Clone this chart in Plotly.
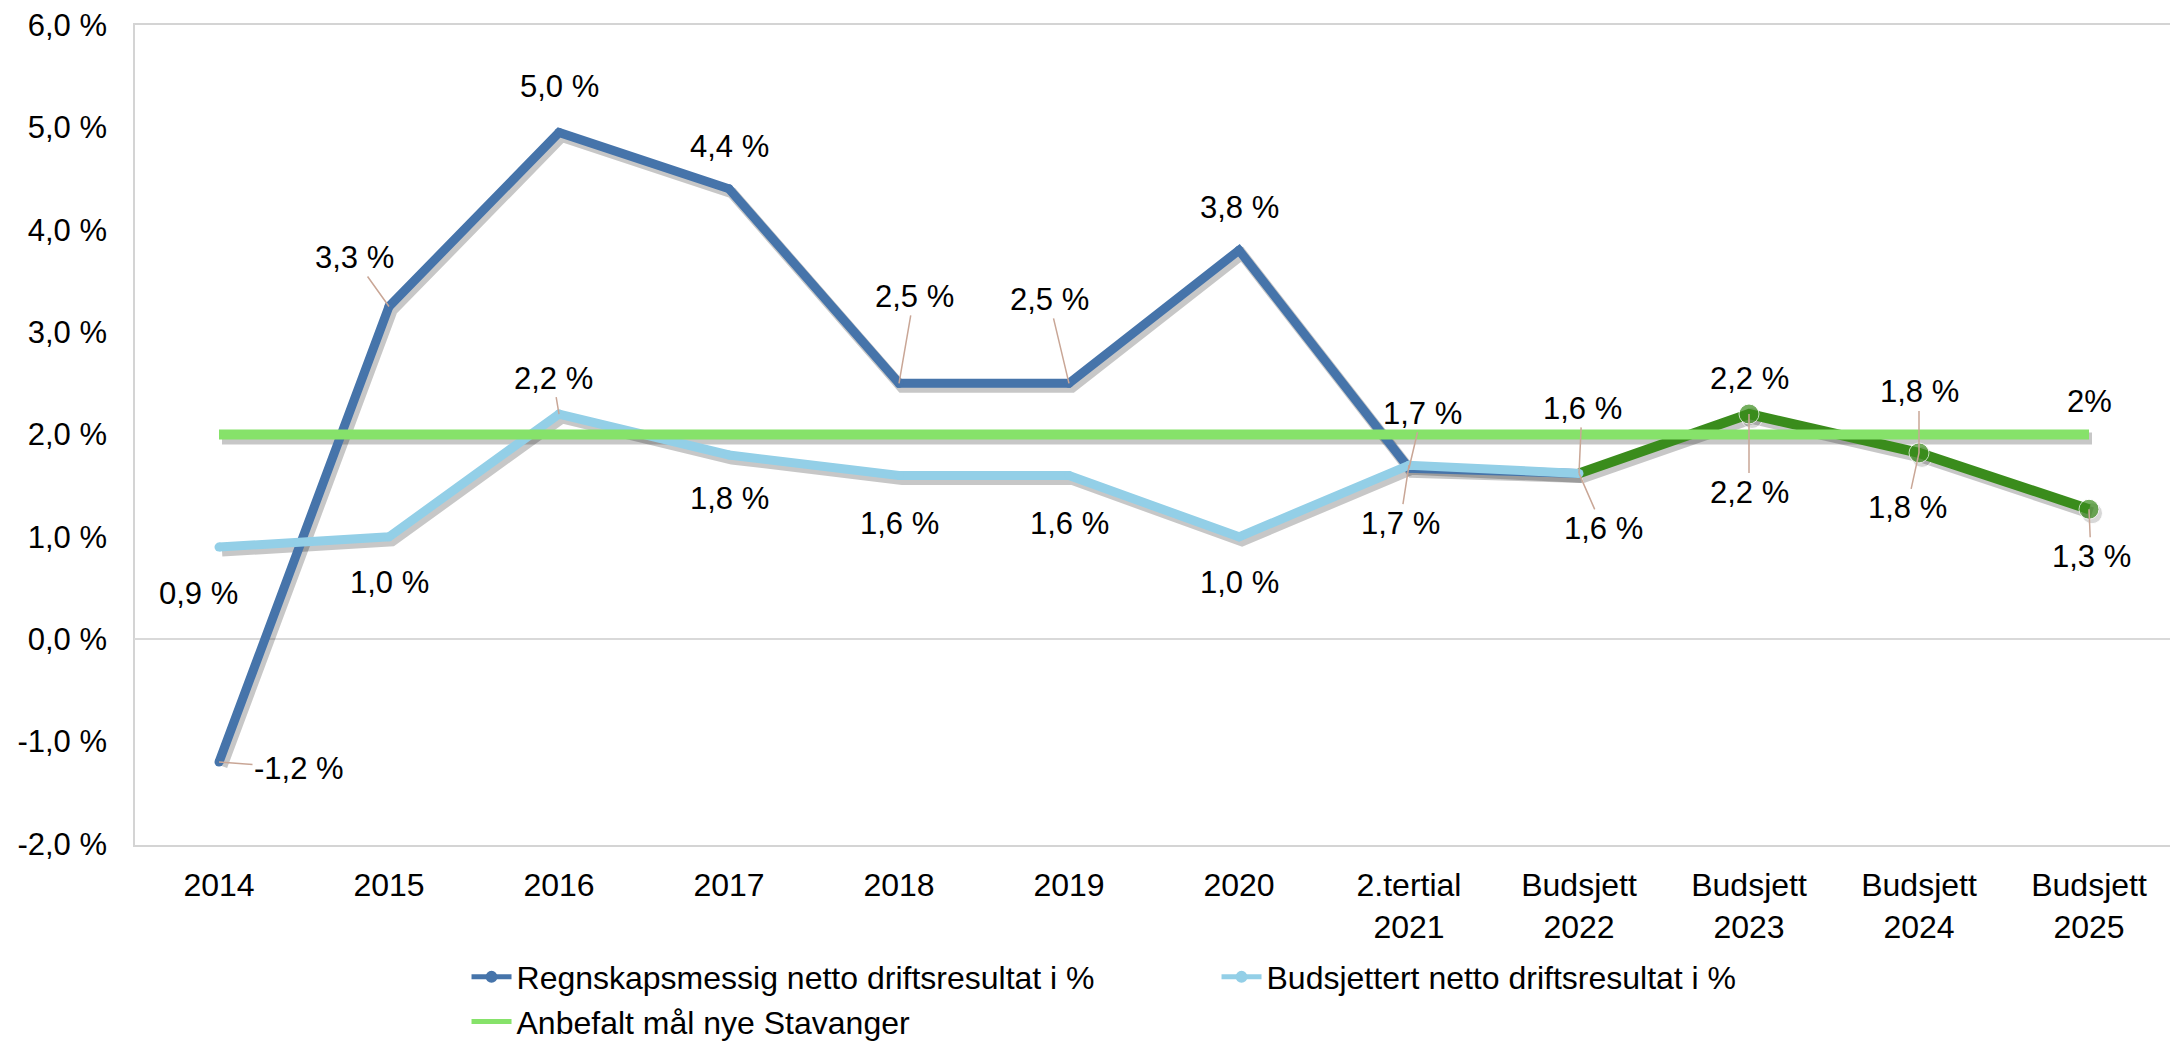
import plotly.graph_objects as go

categories = ["2014", "2015", "2016", "2017", "2018", "2019", "2020",
              "2.tertial<br>2021", "Budsjett<br>2022", "Budsjett<br>2023",
              "Budsjett<br>2024", "Budsjett<br>2025"]

# Regnskapsmessig netto driftsresultat i % (2014 .. Budsjett 2025)
regnskap = [-1.2, 3.25, 4.95, 4.4, 2.5, 2.5, 3.8, 1.67, 1.62, 2.2, 1.82, 1.27]
regnskap_labels = ["-1,2 %", "3,3 %", "5,0 %", "4,4 %", "2,5 %", "2,5 %", "3,8 %",
                   "1,7 %", "1,6 %", "2,2 %", "1,8 %", ""]
# labels shown below the budget points 2023-2025
budget_point_labels = ["", "", "", "", "", "", "", "", "", "2,2 %", "1,8 %", "1,3 %"]

# Budsjettert netto driftsresultat i % (2014 .. Budsjett 2022)
budsjettert = [0.9, 1.0, 2.2, 1.8, 1.6, 1.6, 1.0, 1.7, 1.62]
budsjettert_labels = ["0,9 %", "1,0 %", "2,2 %", "1,8 %", "1,6 %", "1,6 %", "1,0 %",
                      "1,7 %", "1,6 %"]

# Anbefalt mål nye Stavanger
maal = [2.0, 2.0, 2.0, 2.0, 2.0, 2.0, 2.0, 2.0, 2.0, 2.0, 2.0, 2.0]
maal_label = "2%"

y_ticks = [-2, -1, 0, 1, 2, 3, 4, 5, 6]
y_ticktext = ["-2,0 %", "-1,0 %", "0,0 %", "1,0 %", "2,0 %", "3,0 %", "4,0 %", "5,0 %", "6,0 %"]

# ---------------- style ----------------
DARK_BLUE = "#4674aa"
LIGHT_BLUE = "#93cfe7"
DARK_GREEN = "#3a8c1c"
LIGHT_GREEN = "#86e26a"
SHADOW = "rgba(0,0,0,0.22)"
LEADER = "#c9a696"
FONT = "Liberation Sans, Arial, sans-serif"
FS = 31

# page body has an 8px margin -> compensate
W, H = 2170, 1033
ML, MR, MT, MB = 126, 4, 16, 195
PW, PH = W - ML - MR, H - MT - MB
XR = [-0.5, 11.5]
YR = [-2.02, 6.01]
px_x = PW / (XR[1] - XR[0])
px_y = PH / (YR[1] - YR[0])
SDX, SDY = 3, 4  # shadow offset in px
XR_S = [XR[0] - SDX / px_x, XR[1] - SDX / px_x]
YR_S = [YR[0] + SDY / px_y, YR[1] + SDY / px_y]

fig = go.Figure()

n_blue = 9  # dark blue part 2014..2022
green_idx = list(range(8, 12))

# ---- shadows (primary, hidden, shifted axes) ----
fig.add_trace(go.Scatter(x=categories[:n_blue], y=regnskap[:n_blue], mode="lines",
                         line=dict(color=SHADOW, width=11), showlegend=False,
                         hoverinfo="skip", xaxis="x", yaxis="y"))
fig.add_trace(go.Scatter(x=[categories[i] for i in green_idx], y=[regnskap[i] for i in green_idx],
                         mode="lines+markers", line=dict(color=SHADOW, width=12),
                         marker=dict(size=[0, 21, 21, 21], color=SHADOW),
                         showlegend=False, hoverinfo="skip", xaxis="x", yaxis="y"))
fig.add_trace(go.Scatter(x=categories[:len(budsjettert)], y=budsjettert, mode="lines",
                         line=dict(color=SHADOW, width=11), showlegend=False,
                         hoverinfo="skip", xaxis="x", yaxis="y"))
fig.add_trace(go.Scatter(x=categories, y=maal, mode="lines",
                         line=dict(color=SHADOW, width=12), showlegend=False,
                         hoverinfo="skip", xaxis="x", yaxis="y"))

# ---- real lines ----
fig.add_trace(go.Scatter(x=categories[:n_blue], y=regnskap[:n_blue], mode="lines+markers",
                         name="Regnskapsmessig netto driftsresultat i %",
                         line=dict(color=DARK_BLUE, width=9),
                         marker=dict(size=9, color=DARK_BLUE),
                         xaxis="x2", yaxis="y2"))
fig.add_trace(go.Scatter(x=[categories[i] for i in green_idx], y=[regnskap[i] for i in green_idx],
                         mode="lines+markers", showlegend=False,
                         line=dict(color=DARK_GREEN, width=10),
                         marker=dict(size=[0, 20, 20, 20], color=DARK_GREEN),
                         xaxis="x2", yaxis="y2"))
fig.add_trace(go.Scatter(x=categories[:len(budsjettert)], y=budsjettert, mode="lines+markers",
                         name="Budsjettert netto driftsresultat i %",
                         line=dict(color=LIGHT_BLUE, width=9),
                         marker=dict(size=9, color=LIGHT_BLUE),
                         xaxis="x2", yaxis="y2"))
fig.add_trace(go.Scatter(x=categories, y=maal, mode="lines",
                         name="Anbefalt mål nye Stavanger",
                         line=dict(color=LIGHT_GREEN, width=10),
                         xaxis="x2", yaxis="y2"))

# ---- data labels (offset in px, leader flag) ----
reg_off = [(80, 5, True), (-35, -50, True), (0, -47, False), (0, -43, False),
           (15, -88, True), (-20, -85, True), (0, -44, False), (13, -56, True),
           (3, -66, True), (0, -37, False), (0, -62, True), None]
bud_off = [(-21, 45, False), (0, 45, False), (-6, -37, True), (0, 43, False),
           (0, 47, False), (0, 47, False), (0, 45, False), (-9, 57, True), (24, 54, True)]
bp_off = {9: (0, 77, True), 10: (-12, 54, True), 11: (2, 46, True)}
LABEL_DY = 1

annotations = []


def add_label(idx, val, text, off):
    ax, ay, leader = off
    annotations.append(dict(
        x=idx, y=val, xref="x2", yref="y2", text=text, showarrow=True,
        ax=ax, ay=ay + LABEL_DY, arrowhead=0, arrowwidth=1.5,
        arrowcolor=LEADER if leader else "rgba(0,0,0,0)",
        standoff=0, startstandoff=0,
        font=dict(family=FONT, size=FS, color="black")))


for i, (v, t) in enumerate(zip(regnskap, regnskap_labels)):
    if t and reg_off[i]:
        add_label(i, v, t, reg_off[i])
for i, (v, t) in enumerate(zip(budsjettert, budsjettert_labels)):
    add_label(i, v, t, bud_off[i])
for i, t in enumerate(budget_point_labels):
    if t:
        add_label(i, regnskap[i], t, bp_off[i])
add_label(len(maal) - 1, maal[-1], maal_label, (0, -34, False))

fig.update_layout(
    width=W, height=H,
    margin=dict(l=ML, r=MR, t=MT, b=MB, autoexpand=False),
    paper_bgcolor="white", plot_bgcolor="white",
    font=dict(family=FONT, size=FS, color="black"),
    xaxis=dict(type="category", categoryorder="array", categoryarray=categories,
               range=XR_S, visible=False, fixedrange=True),
    yaxis=dict(range=YR_S, visible=False, fixedrange=True),
    xaxis2=dict(type="category", categoryorder="array", categoryarray=categories,
                range=XR, overlaying="x", anchor="y2", side="bottom",
                showgrid=False, zeroline=False, showline=False,
                ticks="", ticklabelstandoff=17, ticklabeloverflow="allow",
                tickfont=dict(family=FONT, size=32, color="black")),
    yaxis2=dict(range=YR, overlaying="y", anchor="x2", side="left",
                tickmode="array", tickvals=y_ticks, ticktext=y_ticktext,
                showgrid=False, zeroline=True, zerolinecolor="#d9d9d9", zerolinewidth=1.5,
                showline=False, ticks="", ticklabelstandoff=26, ticklabeloverflow="allow",
                tickfont=dict(family=FONT, size=31, color="black")),
    legend=dict(orientation="h", x=0.163, xanchor="left", y=-0.126, yanchor="top",
                entrywidth=695, font=dict(family=FONT, size=32, color="black"),
                bgcolor="rgba(0,0,0,0)", itemwidth=40, itemsizing="constant"),
    shapes=[dict(type="rect", xref="paper", yref="paper", x0=0, x1=1, y0=0, y1=1,
                 line=dict(color="#d4d4d4", width=2), layer="below")],
    annotations=annotations,
    showlegend=True,
)

fig.write_html("out.html")
